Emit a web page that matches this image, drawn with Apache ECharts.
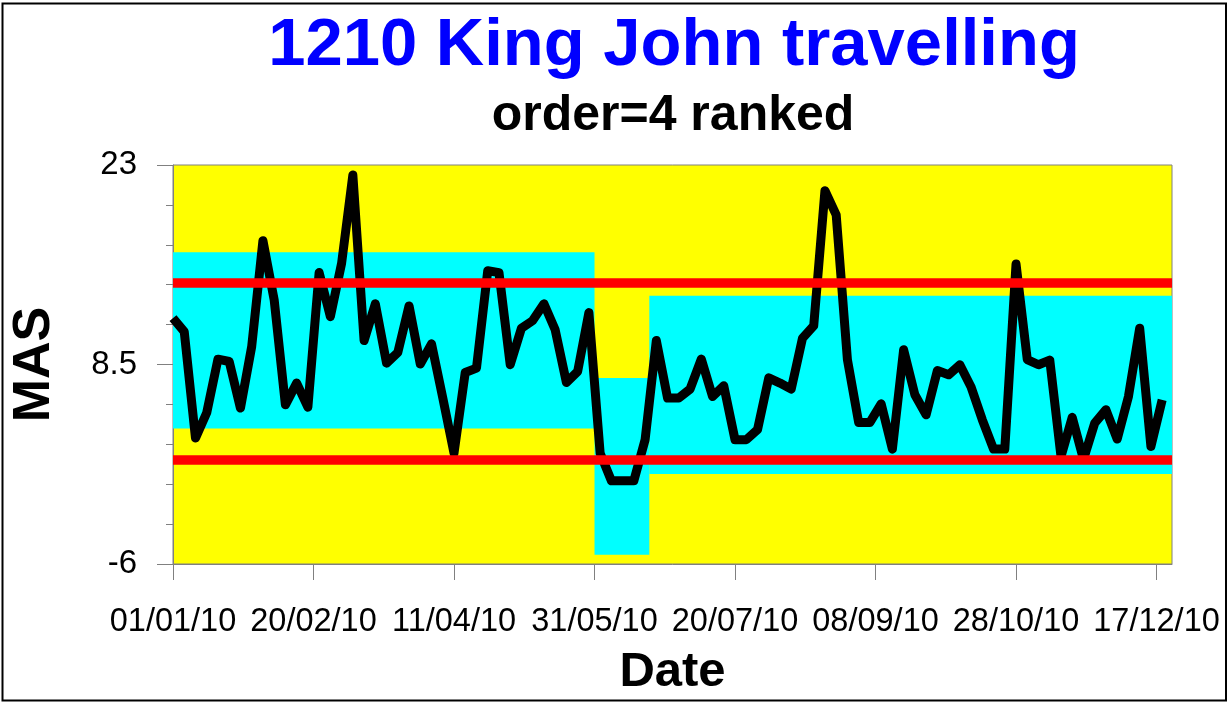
<!DOCTYPE html>
<html>
<head>
<meta charset="utf-8">
<title>1210 King John travelling</title>
<script src="https://cdn.jsdelivr.net/npm/echarts@6/dist/echarts.min.js"></script>
<style>
  html, body { margin: 0; padding: 0; background: #ffffff; }
  #chart { width: 1227px; height: 702px; }
</style>
</head>
<body>
<div id="chart"></div>
<script>
// Series: MAS sampled every 4 days from 1 Jan 2010
const dayStep = 4;
const masValues = [
  11.87, 10.89, 3.15, 4.99, 8.89, 8.72, 5.33, 9.80, 17.50, 13.20,
  5.57, 7.15, 5.40, 15.18, 11.98, 15.86, 22.27, 10.24, 12.91, 8.60,
  9.37, 12.76, 8.53, 10.00, 6.08, 2.06, 7.92, 8.24, 15.32, 15.18,
  8.48, 11.14, 11.69, 12.91, 11.02, 7.19, 7.99, 12.27, 2.06, 0.05,
  0.05, 0.05, 3.03, 10.24, 6.06, 6.06, 6.71, 8.89, 6.17, 6.95,
  3.03, 3.03, 3.76, 7.53, 7.15, 6.71, 10.41, 11.31, 21.13, 19.37,
  8.84, 4.29, 4.29, 5.64, 2.35, 9.57, 6.30, 4.84, 8.06, 7.75,
  8.48, 6.86, 4.48, 2.35, 2.35, 15.81, 8.86, 8.48, 8.82, 1.82,
  4.66, 1.61, 4.24, 5.21, 3.08, 6.17, 11.14, 2.54, 5.93
];

// Date axis: ticks every 50 days, shown as dd/mm/yy
const tickDays = [0, 50, 100, 150, 200, 250, 300, 350];
const tickLabels = ['01/01/10', '20/02/10', '11/04/10', '31/05/10', '20/07/10', '08/09/10', '28/10/10', '17/12/10'];
const axisEndDay = 355.5;

// MAS axis
const yMin = -6, yMax = 23, yStep = 14.5;

// Segment bands (day range, upper, lower)
const bandStartDay = [0, 150, 169.5];
const bandEndDay   = [150, 169.5, axisEndDay];
const bandUpper    = [16.66, 7.51, 13.49];
const bandLower    = [3.85, -5.32, 0.54];

// Control limits
const limitLines = [14.45, 1.55];

const FONT = '"Liberation Sans", Arial, Helvetica, sans-serif';

const points = masValues.map((v, i) => [i * dayStep, v]);
const bandAreas = bandStartDay.map((s, i) => [
  { xAxis: s, yAxis: bandUpper[i] },
  { xAxis: bandEndDay[i], yAxis: bandLower[i] }
]);

const chart = echarts.init(document.getElementById('chart'), null, { renderer: 'canvas' });

chart.setOption({
  animation: false,
  backgroundColor: '#ffffff',
  title: [
    {
      text: '1210 King John travelling',
      left: 674, top: 13, padding: 0, textAlign: 'center',
      textStyle: { color: '#0000ff', fontFamily: FONT, fontWeight: 'bold', fontSize: 67, lineHeight: 67 }
    },
    {
      text: 'order=4 ranked',
      left: 673, top: 91, padding: 0, textAlign: 'center',
      textStyle: { color: '#000000', fontFamily: FONT, fontWeight: 'bold', fontSize: 50, lineHeight: 50 }
    }
  ],
  graphic: [
    {
      type: 'rect', silent: true, z: 100,
      shape: { x: 2.5, y: 3.5, width: 1223.5, height: 697 },
      style: { fill: 'none', stroke: '#000000', lineWidth: 2 }
    }
  ],
  grid: {
    left: 173, top: 165, right: 55, bottom: 138,
    containLabel: false, outerBoundsMode: 'none',
    show: true, backgroundColor: '#ffff00', borderColor: '#808080', borderWidth: 1
  },
  xAxis: {
    type: 'value',
    min: 0, max: axisEndDay, interval: 50,
    name: 'Date', nameLocation: 'middle', nameGap: 84,
    nameTextStyle: { color: '#000', fontFamily: FONT, fontWeight: 'bold', fontSize: 49 },
    axisLine: { show: true, onZero: false, lineStyle: { color: '#808080', width: 1 } },
    axisTick: { show: true, length: 16, customValues: tickDays, lineStyle: { color: '#808080', width: 1 } },
    axisLabel: {
      customValues: tickDays, margin: 42, color: '#000', fontFamily: FONT, fontSize: 32.5,
      formatter: v => { const k = tickDays.indexOf(Math.round(v)); return k >= 0 ? tickLabels[k] : ''; }
    },
    splitLine: { show: false }
  },
  yAxis: {
    type: 'value',
    min: yMin, max: yMax, interval: yStep,
    name: 'MAS', nameLocation: 'middle', nameGap: 112, nameRotate: 90,
    nameTextStyle: { color: '#000', fontFamily: FONT, fontWeight: 'bold', fontSize: 52 },
    axisLine: { show: true, onZero: false, lineStyle: { color: '#808080', width: 1 } },
    axisTick: { show: true, length: 16, lineStyle: { color: '#808080', width: 1 } },
    minorTick: { show: true, splitNumber: 5, length: 7, lineStyle: { color: '#808080', width: 1 } },
    axisLabel: { margin: 36, color: '#000', fontFamily: FONT, fontSize: 33 },
    splitLine: { show: false },
    minorSplitLine: { show: false }
  },
  series: [
    {
      name: 'bands', type: 'line', data: [], z: 1, silent: true,
      markArea: {
        silent: true,
        itemStyle: { color: '#00ffff', opacity: 1 },
        data: bandAreas
      }
    },
    {
      name: 'limits', type: 'line', data: [], z: 2, silent: true,
      markLine: {
        silent: true, symbol: 'none', label: { show: false },
        lineStyle: { color: '#ff0000', width: 9.5, type: 'solid' },
        data: limitLines.map(v => ({ yAxis: v }))
      }
    },
    {
      name: 'MAS', type: 'line', z: 3,
      data: points,
      showSymbol: false, symbol: 'none',
      lineStyle: { color: '#000000', width: 9, cap: 'butt', join: 'round' }
    }
  ]
});
</script>
</body>
</html>
